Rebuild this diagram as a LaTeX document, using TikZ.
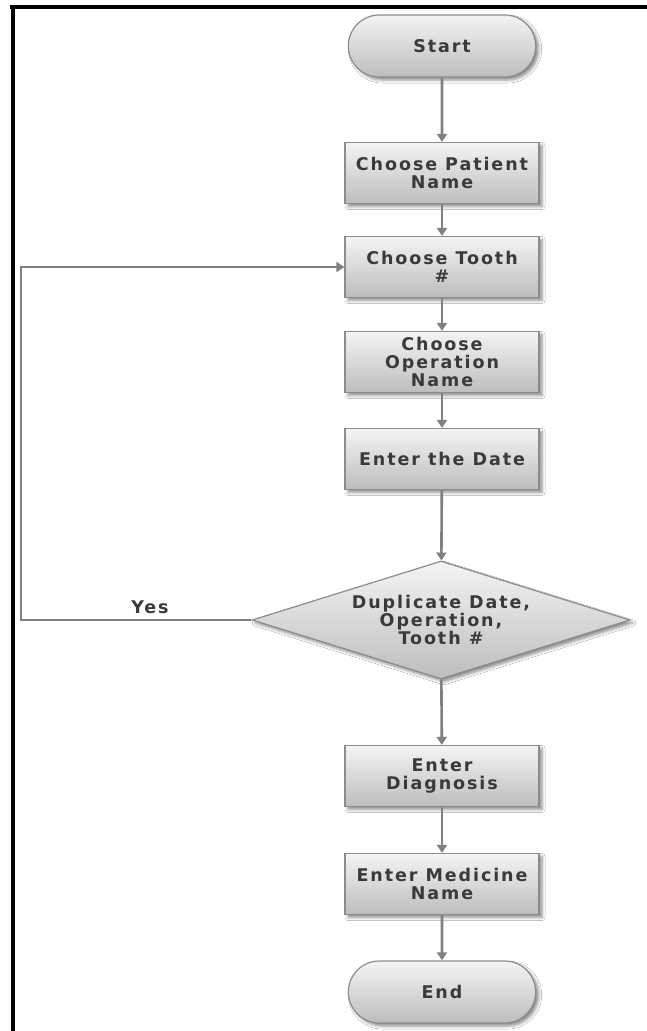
\documentclass[tikz,border=0pt]{standalone}
\usepackage{fontspec}
\newfontfamily\lblfont[LetterSpace=11]{DejaVu Sans}
\usetikzlibrary{arrows.meta,shapes.geometric,shapes.misc,shadows.blur}

\definecolor{ink}{HTML}{3A3A3A}
\definecolor{edge}{HTML}{8C8C8C}
\definecolor{wire}{HTML}{808080}
\definecolor{shadetop}{HTML}{F4F4F4}
\definecolor{shadebot}{HTML}{BDBDBD}

\tikzset{
  lbl/.style={text=ink, font=\lblfont\bfseries\fontsize{17.5}{18}\selectfont, align=center},
  base/.style={lbl, draw=edge, line width=1.2pt, top color=shadetop, bottom color=shadebot,
    blur shadow={shadow xshift=3pt, shadow yshift=-3pt, shadow blur radius=3pt, shadow opacity=45}},
  stepbox/.style={base, rectangle, minimum width=194pt, minimum height=61pt, inner sep=1pt},
  terminal/.style={base, rounded rectangle, minimum width=194pt, minimum height=62pt},
  decision/.style={base, diamond, minimum width=378pt, minimum height=118pt, aspect=3.2, inner sep=0pt},
  flow/.style={draw=wire, line width=2.6pt, -{Triangle[width=10pt,length=8pt]}},
}

\begin{document}
\begin{tikzpicture}[x=1pt, y=-1pt]
  \useasboundingbox (0,0) rectangle (647,1031);
  \fill[white] (0,0) rectangle (647,1031);

  % page frame (top and left rules)
  \fill[black] (10,5) rectangle (647,9);
  \fill[black] (11,5) rectangle (15,1031);

  % nodes
  \node[terminal] (start) at (442,46)  {Start};
  \node[stepbox]  (patient) at (442,173) {Choose Patient\\Name};
  \node[stepbox]  (tooth) at (442,267) {Choose Tooth\\\#};
  \node[stepbox]  (oper) at (442,362) {Choose\\Operation\\Name};
  \node[stepbox]  (date) at (442,459) {Enter the Date};
  \node[decision] (dup) at (441,620) {Duplicate Date,\\Operation,\\Tooth \#};
  \node[stepbox]  (diag) at (442,776) {Enter\\Diagnosis};
  \node[stepbox]  (med) at (442,884) {Enter Medicine\\Name};
  \node[terminal] (end) at (442,992) {End};

  % connectors
  \draw[flow] (start) -- (patient);
  \draw[flow] (patient) -- (tooth);
  \draw[flow] (tooth) -- (oper);
  \draw[flow] (oper) -- (date);
  \draw[flow] (date) -- (dup);
  \draw[flow] (dup) -- (diag);
  \draw[flow] (diag) -- (med);
  \draw[flow] (med) -- (end);

  % loop back when a duplicate is found
  \coordinate (loopbot) at (21,620);
  \coordinate (looptop) at (21,267);
  \draw[flow] (dup.west) -- (loopbot) -- (looptop) -- (tooth.west);
  \node[lbl] (yes) at (150,607) {Yes};
\end{tikzpicture}
\end{document}
